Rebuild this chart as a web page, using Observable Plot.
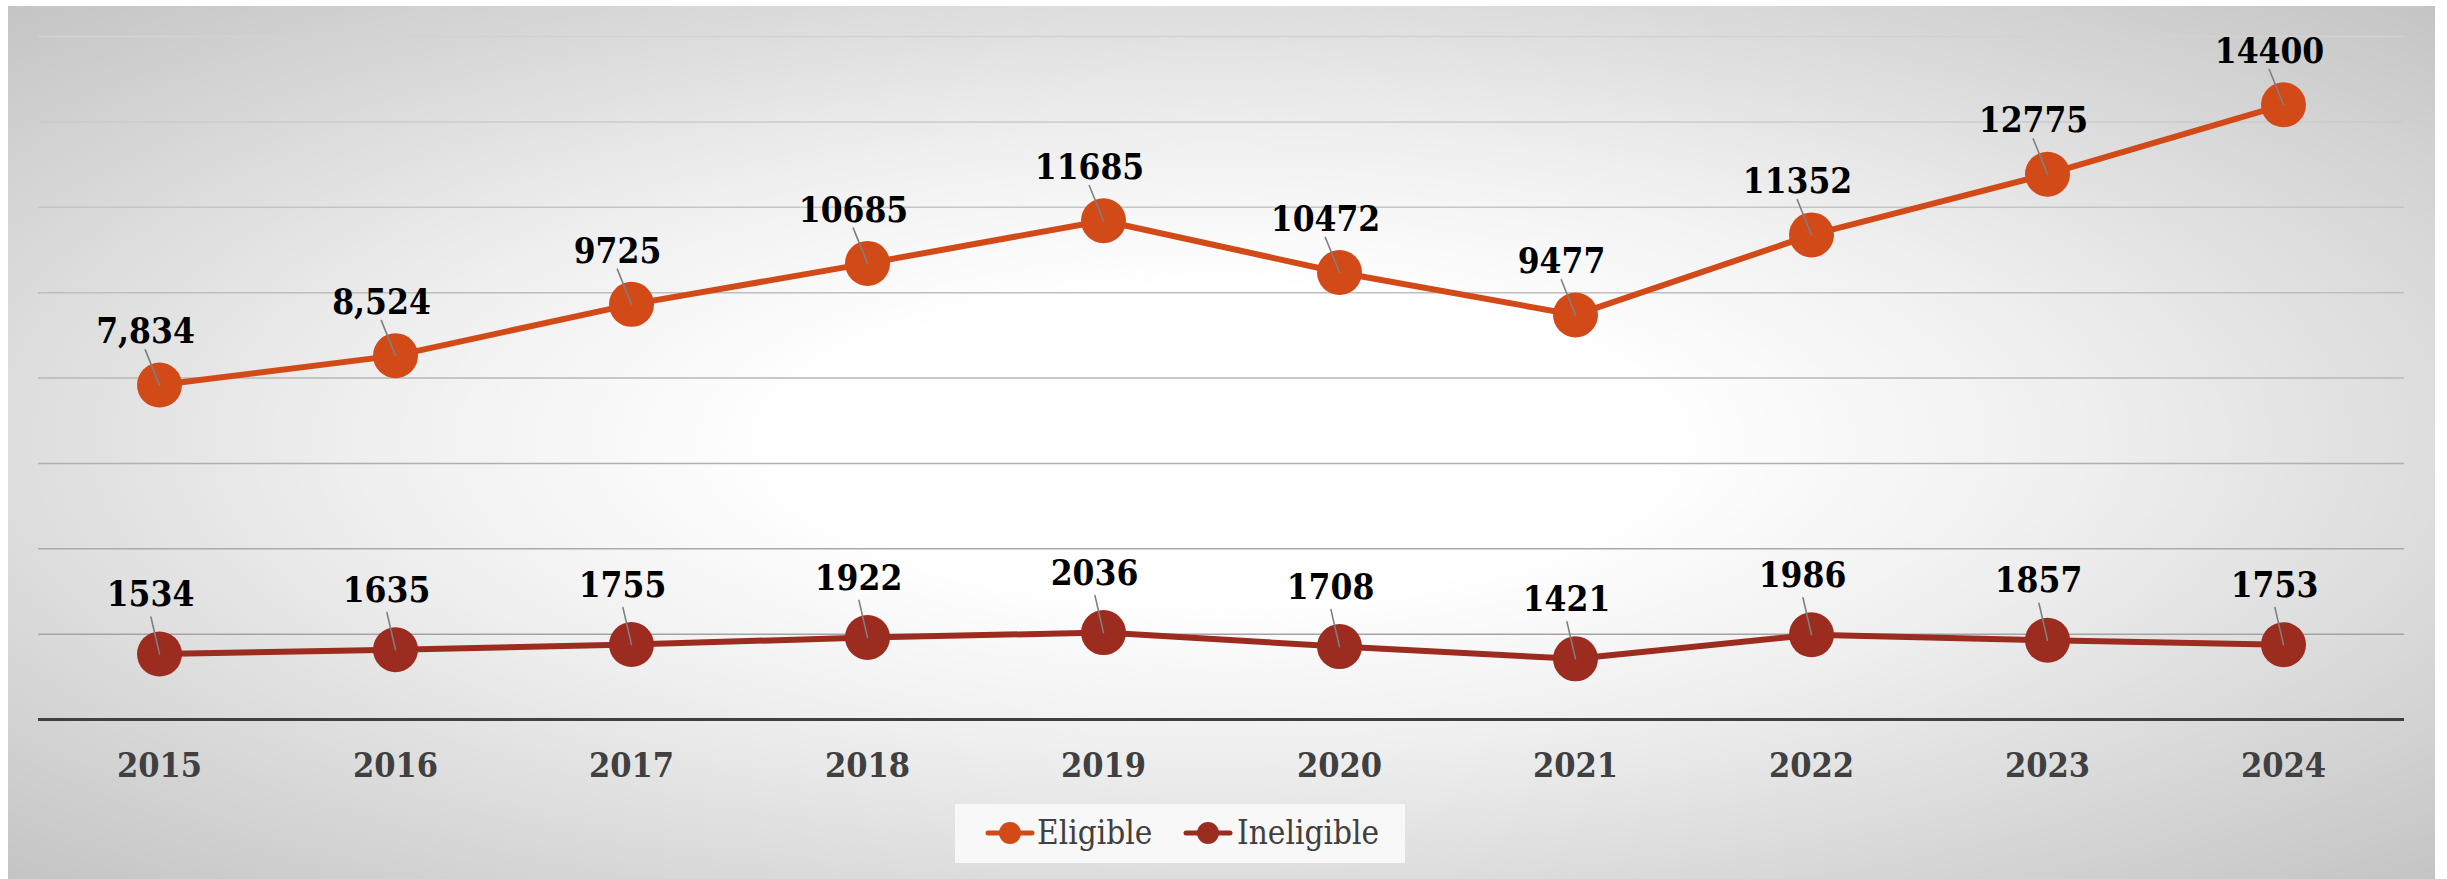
<!DOCTYPE html>
<html>
<head>
<meta charset="utf-8">
<script src="https://cdn.jsdelivr.net/npm/d3@7"></script>
<script src="https://cdn.jsdelivr.net/npm/@observablehq/plot@0.6"></script>
<style>
  body { margin: 0; background: #fff; }
  #frame { position: relative; width: 2447px; height: 879px; overflow: hidden; background: #fff;
    font-family: "DejaVu Serif Condensed", "DejaVu Serif", serif; font-stretch: condensed; }
  #panel { position: absolute; left: 8px; top: 6px; width: 2427px; height: 873px;
    background: radial-gradient(ellipse farthest-corner at 50% 50%, #ffffff 0%, #ffffff 25%, #efefef 50%, #c4c4c4 100%); }
  #chart { position: absolute; left: 0; top: 0; }
  #legend { position: absolute; left: 955px; top: 804px; width: 450px; height: 59px; background: #f8f8f8; }
  .swatch { position: absolute; top: 17px; }
  .label { position: absolute; top: 9px; font-size: 33px; line-height: 40px; color: #404040; white-space: nowrap; }
</style>
</head>
<body>
<div id="frame">
  <div id="panel"></div>
  <div id="chart"></div>
  <div id="legend"></div>
</div>
<script>
const years = [2015, 2016, 2017, 2018, 2019, 2020, 2021, 2022, 2023, 2024];
const eligible = [7834, 8524, 9725, 10685, 11685, 10472, 9477, 11352, 12775, 14400];
const ineligible = [1534, 1635, 1755, 1922, 2036, 1708, 1421, 1986, 1857, 1753];
const eligibleLabels = ["7,834", "8,524", "9725", "10685", "11685", "10472", "9477", "11352", "12775", "14400"];
const ineligibleLabels = ["1534", "1635", "1755", "1922", "2036", "1708", "1421", "1986", "1857", "1753"];
const seriesNames = ["Eligible", "Ineligible"];
const seriesColors = ["#D24A17", "#9B2C1F"];
const gridTicks = [2000, 4000, 6000, 8000, 10000, 12000, 14000, 16000];

const rowsE = years.map((year, i) => ({year, value: eligible[i], label: eligibleLabels[i], series: seriesNames[0]}));
const rowsI = years.map((year, i) => ({year, value: ineligible[i], label: ineligibleLabels[i], series: seriesNames[1]}));

const leader = { draw(context, l) { context.moveTo(0, 0); context.lineTo(0, -l); } };
const fontFamily = '"DejaVu Serif Condensed", "DejaVu Serif", serif';
const gridColor = d3.interpolateRgb("#9c9c9c", "#d2d2d2");

function seriesMarks(rows, color, ldx, ldy, lrot) {
  return [
    Plot.line(rows, {x: "year", y: "value", stroke: color, strokeWidth: 6}),
    Plot.dot(rows, {x: "year", y: "value", r: 22.5, fill: color}),
    Plot.vector(rows, {x: "year", y: "value", length: 38, rotate: lrot, anchor: "start", shape: leader,
      stroke: "#7f7f7f", strokeWidth: 1.6}),
    Plot.text(rows, {x: "year", y: "value", text: "label", dx: ldx, dy: ldy, fontSize: 35,
      fontWeight: "bold", fill: "#000"})
  ];
}

const chart = Plot.plot({
  width: 2447,
  height: 800,
  marginLeft: 38,
  marginRight: 43,
  marginTop: 36,
  marginBottom: 81,
  x: {type: "point", domain: years, padding: 0.5, axis: null},
  y: {domain: [0, 16000], axis: null},
  style: {background: "transparent", fontFamily, fontStretch: "condensed", overflow: "visible"},
  marks: [
    Plot.ruleY(gridTicks, {stroke: d => gridColor(d / 16000), strokeWidth: 1.5}),
    Plot.ruleY([0], {stroke: "#404040", strokeWidth: 3}),
    ...seriesMarks(rowsE, seriesColors[0], -14, -53, -22),
    ...seriesMarks(rowsI, seriesColors[1], -9, -59, -13),
    Plot.text(years, {x: d => d, y: d => 0, text: d => String(d), dy: 47, fontSize: 34,
      fontWeight: "bold", fill: "#404040"})
  ]
});
document.getElementById("chart").appendChild(chart);

// Legend
const legend = document.getElementById("legend");
const legendLayout = [{swatch: 30, text: 82}, {swatch: 228, text: 282}];
seriesNames.forEach((name, i) => {
  const sw = document.createElementNS("http://www.w3.org/2000/svg", "svg");
  sw.setAttribute("width", 50);
  sw.setAttribute("height", 24);
  sw.setAttribute("class", "swatch");
  sw.style.left = legendLayout[i].swatch + "px";
  sw.innerHTML = `<line x1="3" y1="12" x2="47" y2="12" stroke="${seriesColors[i]}" stroke-width="5" stroke-linecap="round"/>` +
    `<circle cx="25" cy="12" r="11" fill="${seriesColors[i]}"/>`;
  legend.appendChild(sw);
  const t = document.createElement("div");
  t.className = "label";
  t.style.left = legendLayout[i].text + "px";
  t.textContent = name;
  legend.appendChild(t);
});
</script>
</body>
</html>
